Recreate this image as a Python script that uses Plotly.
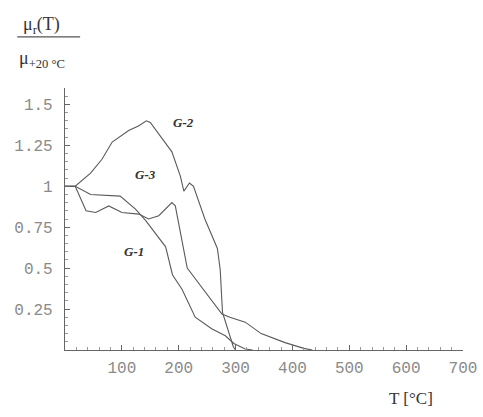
import plotly.graph_objects as go

# Data
T_G1 = [0, 18, 45, 97, 124, 142, 177, 189, 206, 229, 258, 282, 297, 317, 330]
mu_G1 = [1, 1, 0.95, 0.94, 0.86, 0.79, 0.63, 0.46, 0.37, 0.20, 0.13, 0.087, 0.04, 0.006, 0]

T_G3 = [0, 18, 37, 54, 77, 100, 130, 147, 165, 188, 194, 215, 276, 290, 317, 345, 387, 420, 435]
mu_G3 = [1, 1, 0.85, 0.84, 0.88, 0.84, 0.83, 0.80, 0.82, 0.90, 0.88, 0.50, 0.22, 0.20, 0.17, 0.10, 0.045, 0.01, 0]

T_G2 = [0, 18, 45, 65, 83, 112, 130, 143, 150, 188, 203, 209, 219, 226, 246, 268, 273, 277, 296, 300]
mu_G2 = [1, 1, 1.08, 1.165, 1.27, 1.34, 1.37, 1.40, 1.39, 1.21, 1.06, 0.97, 1.02, 1.0, 0.80, 0.62, 0.49, 0.23, 0.02, 0]

x_tickvals = [100, 200, 300, 400, 500, 600, 700]
x_ticktext = ["100", "200", "300", "400", "500", "600", "700"]
y_tickvals = [0.25, 0.5, 0.75, 1, 1.25, 1.5]
y_ticktext = ["0.25", "0.5", "0.75", "1", "1.25", "1.5"]

series = [("G-1", T_G1, mu_G1), ("G-3", T_G3, mu_G3), ("G-2", T_G2, mu_G2)]
labels = [("G-2", 209, 1.39), ("G-3", 142, 1.07), ("G-1", 121, 0.60)]

line_color = "#5a5a5a"
fig = go.Figure()
for name, xs, ys in series:
    fig.add_trace(go.Scatter(x=xs, y=ys, mode="lines", name=name,
                             line=dict(color=line_color, width=1.1),
                             showlegend=False, hoverinfo="skip"))

for text, x, y in labels:
    fig.add_annotation(x=x, y=y, text="<b><i>" + text + "</i></b>", showarrow=False,
                       font=dict(family="Liberation Serif", size=13, color="#333"))

tick_font = dict(family="Liberation Mono", size=16, color="#8a8a8a")
fig.update_xaxes(range=[0, 700], showline=True, linecolor="#666", linewidth=1.2,
                 tickvals=x_tickvals, ticktext=x_ticktext, ticks="inside",
                 ticklen=5, tickcolor="#666", tickfont=tick_font, ticklabelstandoff=3,
                 minor=dict(ticks="inside", ticklen=3, tickcolor="#999", dtick=20, showgrid=False),
                 showgrid=False, zeroline=False, automargin=False)
fig.update_yaxes(range=[0, 1.6], showline=True, linecolor="#666", linewidth=1.2,
                 tickvals=y_tickvals, ticktext=y_ticktext, ticks="inside",
                 ticklen=5, tickcolor="#666", tickfont=tick_font, ticklabelstandoff=8,
                 minor=dict(ticks="inside", ticklen=3, tickcolor="#999", dtick=0.05, showgrid=False),
                 showgrid=False, zeroline=False, automargin=False)

# Axis titles as annotations
fig.add_annotation(xref="paper", yref="paper", x=-0.11, y=1.24, xanchor="left", yanchor="middle",
                   text="μ<sub>r</sub>(T)", showarrow=False,
                   font=dict(family="Liberation Serif", size=18, color="#333"))
fig.add_shape(type="line", xref="paper", yref="paper", x0=-0.12, x1=0.038, y0=1.195, y1=1.195,
              line=dict(color="#555", width=1.2))
fig.add_annotation(xref="paper", yref="paper", x=-0.12, y=1.11, xanchor="left", yanchor="middle",
                   text="μ<sub>+20 °C</sub>", showarrow=False,
                   font=dict(family="Liberation Serif", size=18, color="#333"))
fig.add_annotation(xref="paper", yref="paper", x=0.81, y=-0.185, xanchor="left", yanchor="middle",
                   text="T [°C]", showarrow=False,
                   font=dict(family="Liberation Serif", size=17, color="#333"))

fig.update_layout(width=483, height=417, margin=dict(l=65, r=20, t=88, b=67),
                  plot_bgcolor="white", paper_bgcolor="white")
fig.write_html("out.html", config={"displayModeBar": False},
               post_script="document.body.style.margin='0';document.body.style.overflow='hidden';")
